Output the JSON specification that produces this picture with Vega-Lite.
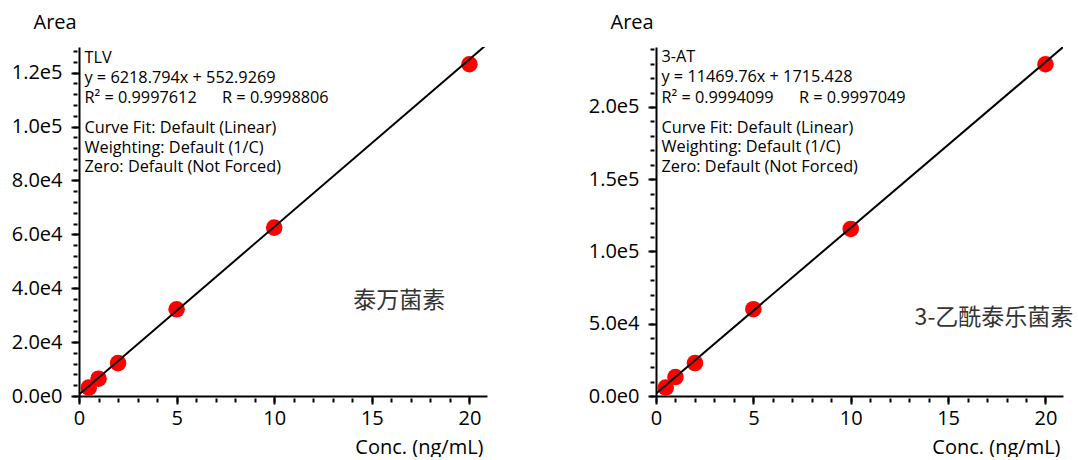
{
  "$schema": "https://vega.github.io/schema/vega-lite/v6.json",
  "background": "white",
  "padding": {"left": 11, "top": 12, "right": 0, "bottom": 0},
  "config": {
    "view": {"stroke": null},
    "font": "Open Sans",
    "axis": {"labelFont": "Open Sans", "titleFont": "Open Sans", "grid": false, "labelFlush": false, "labelOverlap": false}
  },
  "datasets": {
    "tlv_points": [
      {"conc": 0.5, "area": 3100},
      {"conc": 1, "area": 6430},
      {"conc": 2, "area": 12200},
      {"conc": 5, "area": 32160},
      {"conc": 10, "area": 62480},
      {"conc": 20, "area": 123100}
    ],
    "tlv_fit": [
      {"conc": 0, "area": 552.93},
      {"conc": 20.9, "area": 130525}
    ],
    "at_points": [
      {"conc": 0.5, "area": 5800},
      {"conc": 1, "area": 13120},
      {"conc": 2, "area": 22800},
      {"conc": 5, "area": 60080},
      {"conc": 10, "area": 115600},
      {"conc": 20, "area": 229560}
    ],
    "at_fit": [
      {"conc": 0, "area": 1715.43},
      {"conc": 20.9, "area": 241433}
    ]
  },
  "hconcat": [
    {
      "width": 408,
      "height": 349,
      "layer": [
        {
          "data": {"name": "tlv_points"},
          "mark": {"type": "point", "filled": true, "color": "#ff0000", "opacity": 1, "size": 275},
          "encoding": {
            "x": {"field": "conc", "type": "quantitative", "scale": {"domain": [0, 20.9], "nice": false, "zero": false},
              "axis": {"orient": "bottom", "values": [0,1,2,3,4,5,6,7,8,9,10,11,12,13,14,15,16,17,18,19,20], "labels": false, "domain": false, "tickSize": 4, "tickWidth": 2, "tickColor": "black", "offset": 2, "title": null}},
            "y": {"field": "area", "type": "quantitative", "scale": {"domain": [0, 129500], "nice": false},
              "axis": {"orient": "left", "values": [0,4000,8000,12000,16000,20000,24000,28000,32000,36000,40000,44000,48000,52000,56000,60000,64000,68000,72000,76000,80000,84000,88000,92000,96000,100000,104000,108000,112000,116000,120000,124000,128000], "labels": false, "domain": false, "tickSize": 4, "tickWidth": 2, "tickColor": "black", "offset": 2, "title": null}}
          }
        },
        {
          "data": {"name": "tlv_fit"},
          "mark": {"type": "line", "color": "black", "strokeWidth": 2, "clip": true},
          "encoding": {
            "x": {"field": "conc", "type": "quantitative", "scale": {"domain": [0, 20.9], "nice": false, "zero": false},
              "axis": {"orient": "bottom", "values": [0,5,10,15,20], "format": "d", "tickSize": 8, "tickWidth": 2, "tickColor": "black", "domainColor": "black", "domainWidth": 2, "labelFontSize": 20, "labelColor": "black", "labelPadding": 4,
                "title": "Conc. (ng/mL)", "titleFontSize": 20, "titleFontWeight": "normal", "titleColor": "black", "titleAlign": "right", "titleAnchor": "end", "titleBaseline": "alphabetic", "titleX": 404, "titleY": 57}},
            "y": {"field": "area", "type": "quantitative", "scale": {"domain": [0, 129500], "nice": false},
              "axis": {"orient": "left", "values": [0,20000,40000,60000,80000,100000,120000], "labelExpr": "replace(format(datum.value, '.1e'), '+', '')", "tickSize": 8, "tickWidth": 2, "tickColor": "black", "domainColor": "black", "domainWidth": 2, "labelFontSize": 20, "labelColor": "black", "labelPadding": 9,
                "title": "Area", "titleFontSize": 20, "titleFontWeight": "normal", "titleColor": "black", "titleAngle": 0, "titleAlign": "left", "titleBaseline": "alphabetic", "titleX": -46, "titleY": -19}}
          }
        },
        {
          "data": {"values": [{}]},
          "mark": {"type": "text", "align": "left", "baseline": "alphabetic", "fontSize": 16.3, "lineHeight": 20.3, "color": "black", "font": "Open Sans"},
          "encoding": {
            "x": {"datum": 0.28, "type": "quantitative", "axis": null},
            "y": {"datum": 123730, "type": "quantitative", "axis": null},
            "text": {"value": ["TLV", "y = 6218.794x + 552.9269", "R² = 0.9997612 \u00a0\u00a0\u00a0\u00a0 R = 0.9998806"]}
          }
        },
        {
          "data": {"values": [{}]},
          "mark": {"type": "text", "align": "left", "baseline": "alphabetic", "fontSize": 16.3, "lineHeight": 19.7, "color": "black", "font": "Open Sans"},
          "encoding": {
            "x": {"datum": 0.28, "type": "quantitative", "axis": null},
            "y": {"datum": 97600, "type": "quantitative", "axis": null},
            "text": {"value": ["Curve Fit: Default (Linear)", "Weighting: Default (1/C)", "Zero: Default (Not Forced)"]}
          }
        },
        {
          "data": {"values": [{}]},
          "mark": {"type": "text", "align": "center", "baseline": "middle", "fontSize": 23, "color": "#333333", "font": "Noto Sans CJK SC"},
          "encoding": {
            "x": {"datum": 16.4, "type": "quantitative", "axis": null},
            "y": {"datum": 35400, "type": "quantitative", "axis": null},
            "text": {"value": "泰万菌素"}
          }
        }
      ],
      "resolve": {"axis": {"x": "independent", "y": "independent"}}
    },
    {
      "width": 407,
      "height": 349,
      "layer": [
        {
          "data": {"name": "at_points"},
          "mark": {"type": "point", "filled": true, "color": "#ff0000", "opacity": 1, "size": 275},
          "encoding": {
            "x": {"field": "conc", "type": "quantitative", "scale": {"domain": [0, 20.9], "nice": false, "zero": false},
              "axis": {"orient": "bottom", "values": [0,1,2,3,4,5,6,7,8,9,10,11,12,13,14,15,16,17,18,19,20], "labels": false, "domain": false, "tickSize": 4, "tickWidth": 2, "tickColor": "black", "offset": 2, "title": null}},
            "y": {"field": "area", "type": "quantitative", "scale": {"domain": [0, 241500], "nice": false},
              "axis": {"orient": "left", "values": [0,10000,20000,30000,40000,50000,60000,70000,80000,90000,100000,110000,120000,130000,140000,150000,160000,170000,180000,190000,200000,210000,220000,230000,240000], "labels": false, "domain": false, "tickSize": 4, "tickWidth": 2, "tickColor": "black", "offset": 2, "title": null}}
          }
        },
        {
          "data": {"name": "at_fit"},
          "mark": {"type": "line", "color": "black", "strokeWidth": 2, "clip": true},
          "encoding": {
            "x": {"field": "conc", "type": "quantitative", "scale": {"domain": [0, 20.9], "nice": false, "zero": false},
              "axis": {"orient": "bottom", "values": [0,5,10,15,20], "format": "d", "tickSize": 8, "tickWidth": 2, "tickColor": "black", "domainColor": "black", "domainWidth": 2, "labelFontSize": 20, "labelColor": "black", "labelPadding": 4,
                "title": "Conc. (ng/mL)", "titleFontSize": 20, "titleFontWeight": "normal", "titleColor": "black", "titleAlign": "right", "titleAnchor": "end", "titleBaseline": "alphabetic", "titleX": 404, "titleY": 57}},
            "y": {"field": "area", "type": "quantitative", "scale": {"domain": [0, 241500], "nice": false},
              "axis": {"orient": "left", "values": [0,50000,100000,150000,200000], "labelExpr": "replace(format(datum.value, '.1e'), '+', '')", "tickSize": 8, "tickWidth": 2, "tickColor": "black", "domainColor": "black", "domainWidth": 2, "labelFontSize": 20, "labelColor": "black", "labelPadding": 9,
                "title": "Area", "titleFontSize": 20, "titleFontWeight": "normal", "titleColor": "black", "titleAngle": 0, "titleAlign": "left", "titleBaseline": "alphabetic", "titleX": -46, "titleY": -19}}
          }
        },
        {
          "data": {"values": [{}]},
          "mark": {"type": "text", "align": "left", "baseline": "alphabetic", "fontSize": 16.3, "lineHeight": 20.3, "color": "black", "font": "Open Sans"},
          "encoding": {
            "x": {"datum": 0.28, "type": "quantitative", "axis": null},
            "y": {"datum": 231150, "type": "quantitative", "axis": null},
            "text": {"value": ["3-AT", "y = 11469.76x + 1715.428", "R² = 0.9994099 \u00a0\u00a0\u00a0\u00a0 R = 0.9997049"]}
          }
        },
        {
          "data": {"values": [{}]},
          "mark": {"type": "text", "align": "left", "baseline": "alphabetic", "fontSize": 16.3, "lineHeight": 19.7, "color": "black", "font": "Open Sans"},
          "encoding": {
            "x": {"datum": 0.28, "type": "quantitative", "axis": null},
            "y": {"datum": 182320, "type": "quantitative", "axis": null},
            "text": {"value": ["Curve Fit: Default (Linear)", "Weighting: Default (1/C)", "Zero: Default (Not Forced)"]}
          }
        },
        {
          "data": {"values": [{}]},
          "mark": {"type": "text", "align": "left", "baseline": "middle", "fontSize": 23, "color": "#333333", "font": "Noto Sans CJK SC"},
          "encoding": {
            "x": {"datum": 13.28, "type": "quantitative", "axis": null},
            "y": {"datum": 53660, "type": "quantitative", "axis": null},
            "text": {"value": "3-乙酰泰乐菌素"}
          }
        }
      ],
      "resolve": {"axis": {"x": "independent", "y": "independent"}}
    }
  ],
  "spacing": 169,
  "bounds": "flush"
}
